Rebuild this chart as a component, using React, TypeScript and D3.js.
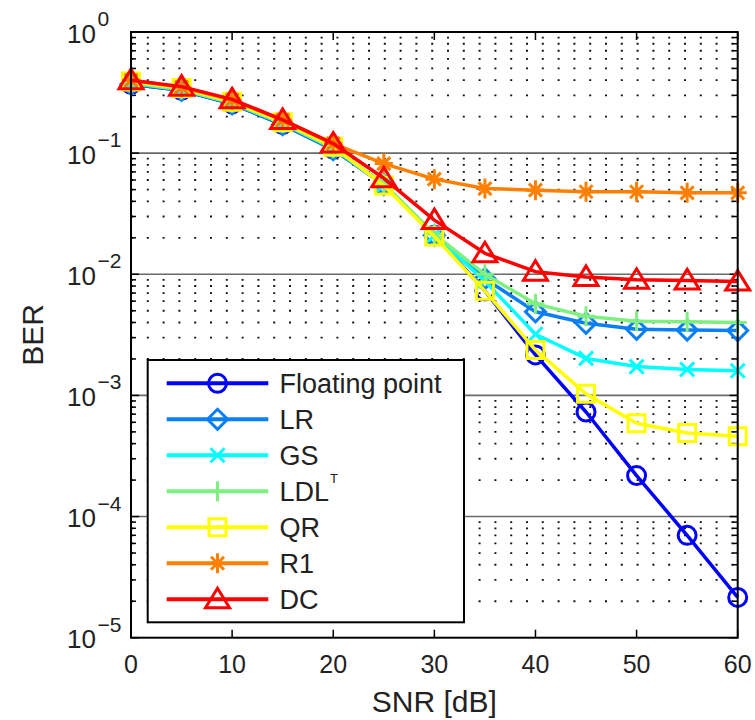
import React from "react";
import * as d3 from "d3";

const snr = [0, 5, 10, 15, 20, 25, 30, 35, 40, 45, 50, 55, 60];

const floating = [0.37, 0.33, 0.255, 0.172, 0.108, 0.055, 0.021, 0.0073, 0.00216, 0.00073, 0.000218, 7.0e-5, 2.15e-5];
const lr = [0.37, 0.33, 0.255, 0.172, 0.107, 0.055, 0.021, 0.0092, 0.0049, 0.00394, 0.00351, 0.00346, 0.00343];
const gs = [0.38, 0.335, 0.26, 0.176, 0.11, 0.055, 0.021, 0.0088, 0.0032, 0.00202, 0.00173, 0.00164, 0.0016];
const ldl = [0.38, 0.335, 0.26, 0.177, 0.11, 0.056, 0.0215, 0.01, 0.0057, 0.0045, 0.0041, 0.00405, 0.004];
const qr = [0.39, 0.345, 0.265, 0.18, 0.113, 0.054, 0.0205, 0.0073, 0.00237, 0.00103, 0.00059, 0.00049, 0.00046];
const r1 = [0.4, 0.35, 0.275, 0.188, 0.12, 0.082, 0.061, 0.051, 0.0495, 0.048, 0.048, 0.047, 0.047];
const dc = [0.4, 0.354, 0.278, 0.188, 0.12, 0.062, 0.028, 0.0149, 0.0105, 0.0095, 0.009, 0.0089, 0.0087];

const seriesNames = ["Floating point", "LR", "GS", "LDL", "QR", "R1", "DC"];
const seriesColors = ["#0000ff", "#0a7ff5", "#00ffff", "#7ff07f", "#ffff00", "#ff8000", "#ff0000"];
const seriesMarkers = ["circle", "diamond", "x", "plus", "square", "star", "triangle"];
const seriesValues = [floating, lr, gs, ldl, qr, r1, dc];

const xTicks = [0, 10, 20, 30, 40, 50, 60];
const yExponents = [0, -1, -2, -3, -4, -5];

const margin = { top: 32, right: 17.3, bottom: 82.3, left: 131 };
const W = 755;
const H = 720;
const font = "'Liberation Sans', Arial, Helvetica, sans-serif";

function markerPath(type: string): string {
  switch (type) {
    case "circle":
      return "M9,0A9,9 0 1,1 -9,0A9,9 0 1,1 9,0Z";
    case "diamond":
      return "M0,-10L10,0L0,10L-10,0Z";
    case "x":
      return "M-7,-7L7,7M-7,7L7,-7";
    case "plus":
      return "M0,-10L0,10M-9,0L9,0";
    case "square":
      return "M-8.5,-8.5L8.5,-8.5L8.5,8.5L-8.5,8.5Z";
    case "star":
      return "M0,-10L0,10M-9,0L9,0M-6.5,-6.5L6.5,6.5M-6.5,6.5L6.5,-6.5";
    case "triangle":
      return "M0,-11L12,8.5L-12,8.5Z";
    default:
      return "";
  }
}

export default function App() {
  const x = d3.scaleLinear().domain([0, 60]).range([margin.left, W - margin.right]);
  const y = d3.scaleLog().domain([1e-5, 1]).range([H - margin.bottom, margin.top]);

  const line = d3
    .line<number>()
    .x((_, i) => x(snr[i]))
    .y((d) => y(d));

  const x0 = x(0);
  const x1 = x(60);
  const y0 = y(1);
  const y1 = y(1e-5);

  const minors: number[] = [];
  for (let e = -5; e < 0; e++) {
    for (let m = 2; m <= 9; m++) minors.push(m * Math.pow(10, e));
  }

  const legend = { x: 147.7, y: 360, w: 316.3, h: 262.3, row0: 383.3, step: 36 };

  return (
    <svg width={W} height={H} style={{ position: "absolute", left: 0, top: 0 }} fontFamily={font}>
      <rect x={0} y={0} width={W} height={H} fill="#fff" />

      {/* minor grid */}
      {minors.map((v) => (
        <line key={"mg" + v} x1={x0} x2={x1} y1={y(v)} y2={y(v)} stroke="#111" strokeWidth={1.8} strokeDasharray="2 13.8" />
      ))}
      {/* major grid */}
      {yExponents.slice(1, 5).map((e) => (
        <line key={"Mg" + e} x1={x0} x2={x1} y1={y(Math.pow(10, e))} y2={y(Math.pow(10, e))} stroke="#6a6a6a" strokeWidth={1.6} />
      ))}

      {/* y ticks */}
      {minors.map((v) => (
        <g key={"yt" + v}>
          <line x1={x0} x2={x0 + 5} y1={y(v)} y2={y(v)} stroke="#000" strokeWidth={1.5} />
          <line x1={x1} x2={x1 - 5} y1={y(v)} y2={y(v)} stroke="#000" strokeWidth={1.5} />
        </g>
      ))}
      {yExponents.map((e) => (
        <g key={"yM" + e}>
          <line x1={x0} x2={x0 + 8} y1={y(Math.pow(10, e))} y2={y(Math.pow(10, e))} stroke="#000" strokeWidth={1.5} />
          <line x1={x1} x2={x1 - 8} y1={y(Math.pow(10, e))} y2={y(Math.pow(10, e))} stroke="#000" strokeWidth={1.5} />
        </g>
      ))}
      {/* x ticks */}
      {xTicks.map((t) => (
        <g key={"xt" + t}>
          <line x1={x(t)} x2={x(t)} y1={y1} y2={y1 - 8} stroke="#000" strokeWidth={1.5} />
          <line x1={x(t)} x2={x(t)} y1={y0} y2={y0 + 8} stroke="#000" strokeWidth={1.5} />
          <text x={x(t)} y={y1 + 35} textAnchor="middle" fontSize={25} fill="#222">
            {t}
          </text>
        </g>
      ))}

      {/* y tick labels */}
      {yExponents.map((e) => {
        const ty = y(Math.pow(10, e));
        return (
          <g key={"yl" + e} fill="#222">
            <text x={67} y={ty + 10.5} fontSize={26}>
              10
            </text>
            <text x={97.5} y={ty - 6} fontSize={21}>
              {e === 0 ? "0" : "\u2212" + Math.abs(e)}
            </text>
          </g>
        );
      })}

      {/* series */}
      {seriesValues.map((vals, si) => (
        <g key={"s" + si}>
          <path d={line(vals) || ""} fill="none" stroke={seriesColors[si]} strokeWidth={3.5} strokeLinejoin="round" />
          {vals.map((v, i) => (
            <path
              key={i}
              d={markerPath(seriesMarkers[si])}
              transform={`translate(${x(snr[i])},${y(v)})`}
              fill="none"
              stroke={seriesColors[si]}
              strokeWidth={3}
            />
          ))}
        </g>
      ))}

      {/* axes box */}
      <rect x={x0} y={y0} width={x1 - x0} height={y1 - y0} fill="none" stroke="#000" strokeWidth={2} />

      {/* legend */}
      <rect x={legend.x} y={legend.y} width={legend.w} height={legend.h} fill="#fff" stroke="#000" strokeWidth={2} />
      {seriesNames.map((name, i) => {
        const ly = legend.row0 + i * legend.step;
        return (
          <g key={"lg" + i}>
            <line x1={166.7} x2={268.3} y1={ly} y2={ly} stroke={seriesColors[i]} strokeWidth={4} />
            <path d={markerPath(seriesMarkers[i])} transform={`translate(217.5,${ly})`} fill="none" stroke={seriesColors[i]} strokeWidth={3} />
            <text x={279.5} y={ly + 9.5} fontSize={27} fill="#222">
              {name}
              {name === "LDL" ? (
                <tspan fontSize={13} dy={-18} dx={1}>
                  T
                </tspan>
              ) : null}
            </text>
          </g>
        );
      })}

      {/* axis labels */}
      <text x={(x0 + x1) / 2} y={712} textAnchor="middle" fontSize={30} fill="#222">
        SNR [dB]
      </text>
      <text transform={`translate(43,${(y0 + y1) / 2}) rotate(-90)`} textAnchor="middle" fontSize={30} fill="#222">
        BER
      </text>
    </svg>
  );
}
